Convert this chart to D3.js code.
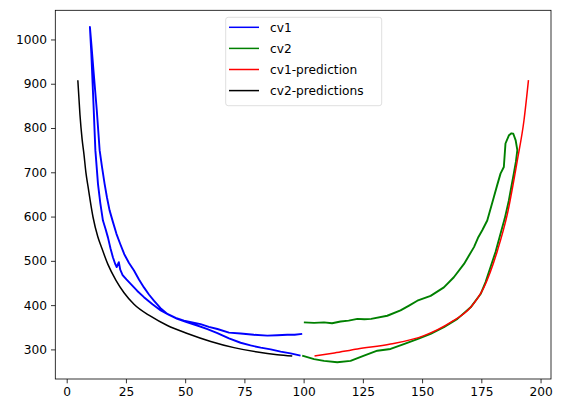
<!DOCTYPE html>
<html>
<head>
<meta charset="utf-8">
<script src="https://cdn.jsdelivr.net/npm/d3@7"></script>
<style>
  body { margin: 0; background: #fff; }
  svg { display: block; font-family: "DejaVu Sans", sans-serif; }
</style>
</head>
<body>
<svg id="chart" width="563" height="413"></svg>
<script>
// values
var cv1X = [99.4, 96.2, 93.1, 88.9, 84.7, 79.0, 73.4, 68.5, 63.6, 60.0, 56.5, 53.0, 49.5, 46.0, 42.5, 39.6, 36.8, 34.7, 32.6, 30.5, 28.4, 26.3, 24.3, 22.6, 21.0, 19.5, 18.1, 17.0, 16.0, 14.9, 13.9, 12.7, 11.3, 10.4, 9.8,
            10.4, 11.3, 12.1, 13.2, 14.2, 15.3, 16.4, 17.4, 18.5, 19.5, 20.4, 21.1, 22.0, 22.6, 23.6, 25.2, 27.0, 29.8, 32.6, 36.2, 39.7, 43.2, 46.7, 50.9, 55.1, 59.4, 63.6, 68.5, 73.4, 77.6, 81.9, 86.1, 90.3, 94.5, 98.7];
var cv1Y = [335, 333, 333, 332, 331, 333, 336, 338, 346, 351, 357, 361, 365, 371, 380, 393, 410, 424, 440, 458, 478, 495, 515, 538, 561, 588, 614, 643, 674, 712, 750, 840, 930, 990, 1028,
            968, 855, 750, 674, 630, 591, 572, 553, 528, 508, 494, 486, 497, 480, 468, 458, 448, 432, 418, 402, 388, 378, 369, 361, 354, 346, 337, 325, 315, 309, 304, 300, 295, 291, 286];

var cv2X = [99.4, 104.4, 108.6, 114.2, 119.8, 125.5, 131.1, 136.7, 142.3, 148.0, 153.6, 159.2, 164.9, 170.5, 174.7, 176.8, 178.9, 181.0, 183.1, 184.9, 186.6, 187.7, 188.7, 189.6, 190.2, 189.5, 188.5, 187.6, 186.6, 185.2, 184.5, 183.1, 181.7, 180.3, 177.5, 175.4, 173.6, 171.9, 169.8, 167.7, 163.4, 159.2, 153.6, 148.0, 144.5, 140.9, 135.3, 128.5, 125.6, 122.7, 119.0, 115.6, 112.0, 108.6, 104.4, 100.1];
var cv2Y = [286, 278, 274, 271, 274, 286, 297, 301, 312, 323, 335, 350, 369, 395, 425, 452, 486, 520, 561, 596, 636, 668, 697, 724, 750, 772, 787, 788, 783, 765, 712, 697, 671, 644, 591, 569, 552, 531, 512, 493, 463, 440, 421, 410, 399, 388, 376, 369, 368, 369, 365, 363, 359, 361, 360, 361];

var cv1PredX = [104.6, 113.0, 122.7, 136.7, 150.8, 162.0, 170.5, 176.1, 181.8, 186.0, 190.2, 193.0, 194.9];
var cv1PredY = [285, 292, 301, 312, 331, 361, 395, 440, 523, 606, 727, 817, 908];

var cv2PredX = [4.7, 5.6, 6.5, 7.3, 8.1, 9.0, 11.1, 13.1, 14.6, 17.4, 20.8, 24.2, 28.4, 35.4, 42.5, 50.9, 60.8, 70.6, 80.5, 88.9, 95.2];
var cv2PredY = [908, 830, 775, 740, 700, 668, 599, 555, 532, 492, 456, 428, 402, 375, 354, 336, 318, 304, 294, 288, 285];

var seriesNames = ["cv1", "cv2", "cv1-prediction", "cv2-predictions"];
var seriesColors = ["#0000ff", "#008000", "#ff0000", "#000000"];
var xTicks = [0, 25, 50, 75, 100, 125, 150, 175, 200];
var yTicks = [300, 400, 500, 600, 700, 800, 900, 1000];

var series = [
  { name: seriesNames[0], color: seriesColors[0], smooth: false, pts: d3.zip(cv1X, cv1Y) },
  { name: seriesNames[1], color: seriesColors[1], smooth: false, pts: d3.zip(cv2X, cv2Y) },
  { name: seriesNames[2], color: seriesColors[2], smooth: true, pts: d3.zip(cv1PredX, cv1PredY) },
  { name: seriesNames[3], color: seriesColors[3], smooth: true, pts: d3.zip(cv2PredX, cv2PredY) }
];

var axLeft = 55.3, axRight = 551, axTop = 10.3, axBottom = 379;

// matplotlib style 5% margins around the data
var allPts = d3.merge(series.map(function(s) { return s.pts; }));
var xe = d3.extent(allPts, function(d) { return d[0]; });
var ye = d3.extent(allPts, function(d) { return d[1]; });
var xm = (xe[1] - xe[0]) * 0.05, ym = (ye[1] - ye[0]) * 0.05;

var x = d3.scaleLinear().domain([xe[0] - xm, xe[1] + xm]).range([axLeft, axRight]);
var y = d3.scaleLinear().domain([ye[0] - ym, ye[1] + ym]).range([axBottom, axTop]);

var svg = d3.select("#chart");

var plot = svg.append("g");

series.forEach(function(s) {
  var line = d3.line()
    .x(function(d) { return x(d[0]); })
    .y(function(d) { return y(d[1]); })
    .curve(s.smooth ? d3.curveMonotoneX : d3.curveLinear);
  plot.append("path")
    .datum(s.pts)
    .attr("d", line)
    .attr("fill", "none")
    .attr("stroke", s.color)
    .attr("stroke-width", s.smooth ? 1.5 : 1.9)
    .attr("stroke-linejoin", "round");
});

// axes
var xAxis = d3.axisBottom(x).tickValues(xTicks).tickFormat(d3.format("d")).tickSize(4.3).tickPadding(4);
var yAxis = d3.axisLeft(y).tickValues(yTicks).tickFormat(d3.format("d")).tickSize(4.3).tickPadding(4);

var gx = svg.append("g").attr("transform", "translate(0," + axBottom + ")").call(xAxis);
var gy = svg.append("g").attr("transform", "translate(" + axLeft + ",0)").call(yAxis);
[gx, gy].forEach(function(g) {
  g.select(".domain").remove();
  g.selectAll("text").attr("font-family", "DejaVu Sans").attr("font-size", 12.2).attr("fill", "#000");
  g.selectAll("line").attr("stroke", "#000").attr("stroke-width", 0.8);
});

svg.append("rect")
  .attr("x", axLeft).attr("y", axTop)
  .attr("width", axRight - axLeft).attr("height", axBottom - axTop)
  .attr("fill", "none").attr("stroke", "#000").attr("stroke-width", 0.8);

// legend
var lg = svg.append("g");
lg.append("rect")
  .attr("x", 225.7).attr("y", 17.3).attr("width", 156).attr("height", 88.4)
  .attr("rx", 2.5).attr("fill", "#fff").attr("fill-opacity", 0.8)
  .attr("stroke", "#d6d6d6").attr("stroke-width", 0.8);

var rows = lg.selectAll("g.row").data(series).enter().append("g")
  .attr("transform", function(d, i) { return "translate(0," + (27.3 + i * 21.1) + ")"; });
rows.append("line")
  .attr("x1", 229).attr("x2", 259).attr("y1", 0).attr("y2", 0)
  .attr("stroke", function(d) { return d.color; }).attr("stroke-width", 1.5);
rows.append("text")
  .attr("x", 270).attr("y", 0).attr("dy", "0.35em")
  .attr("font-size", 12.2).attr("fill", "#000")
  .text(function(d) { return d.name; });
</script>
</body>
</html>
